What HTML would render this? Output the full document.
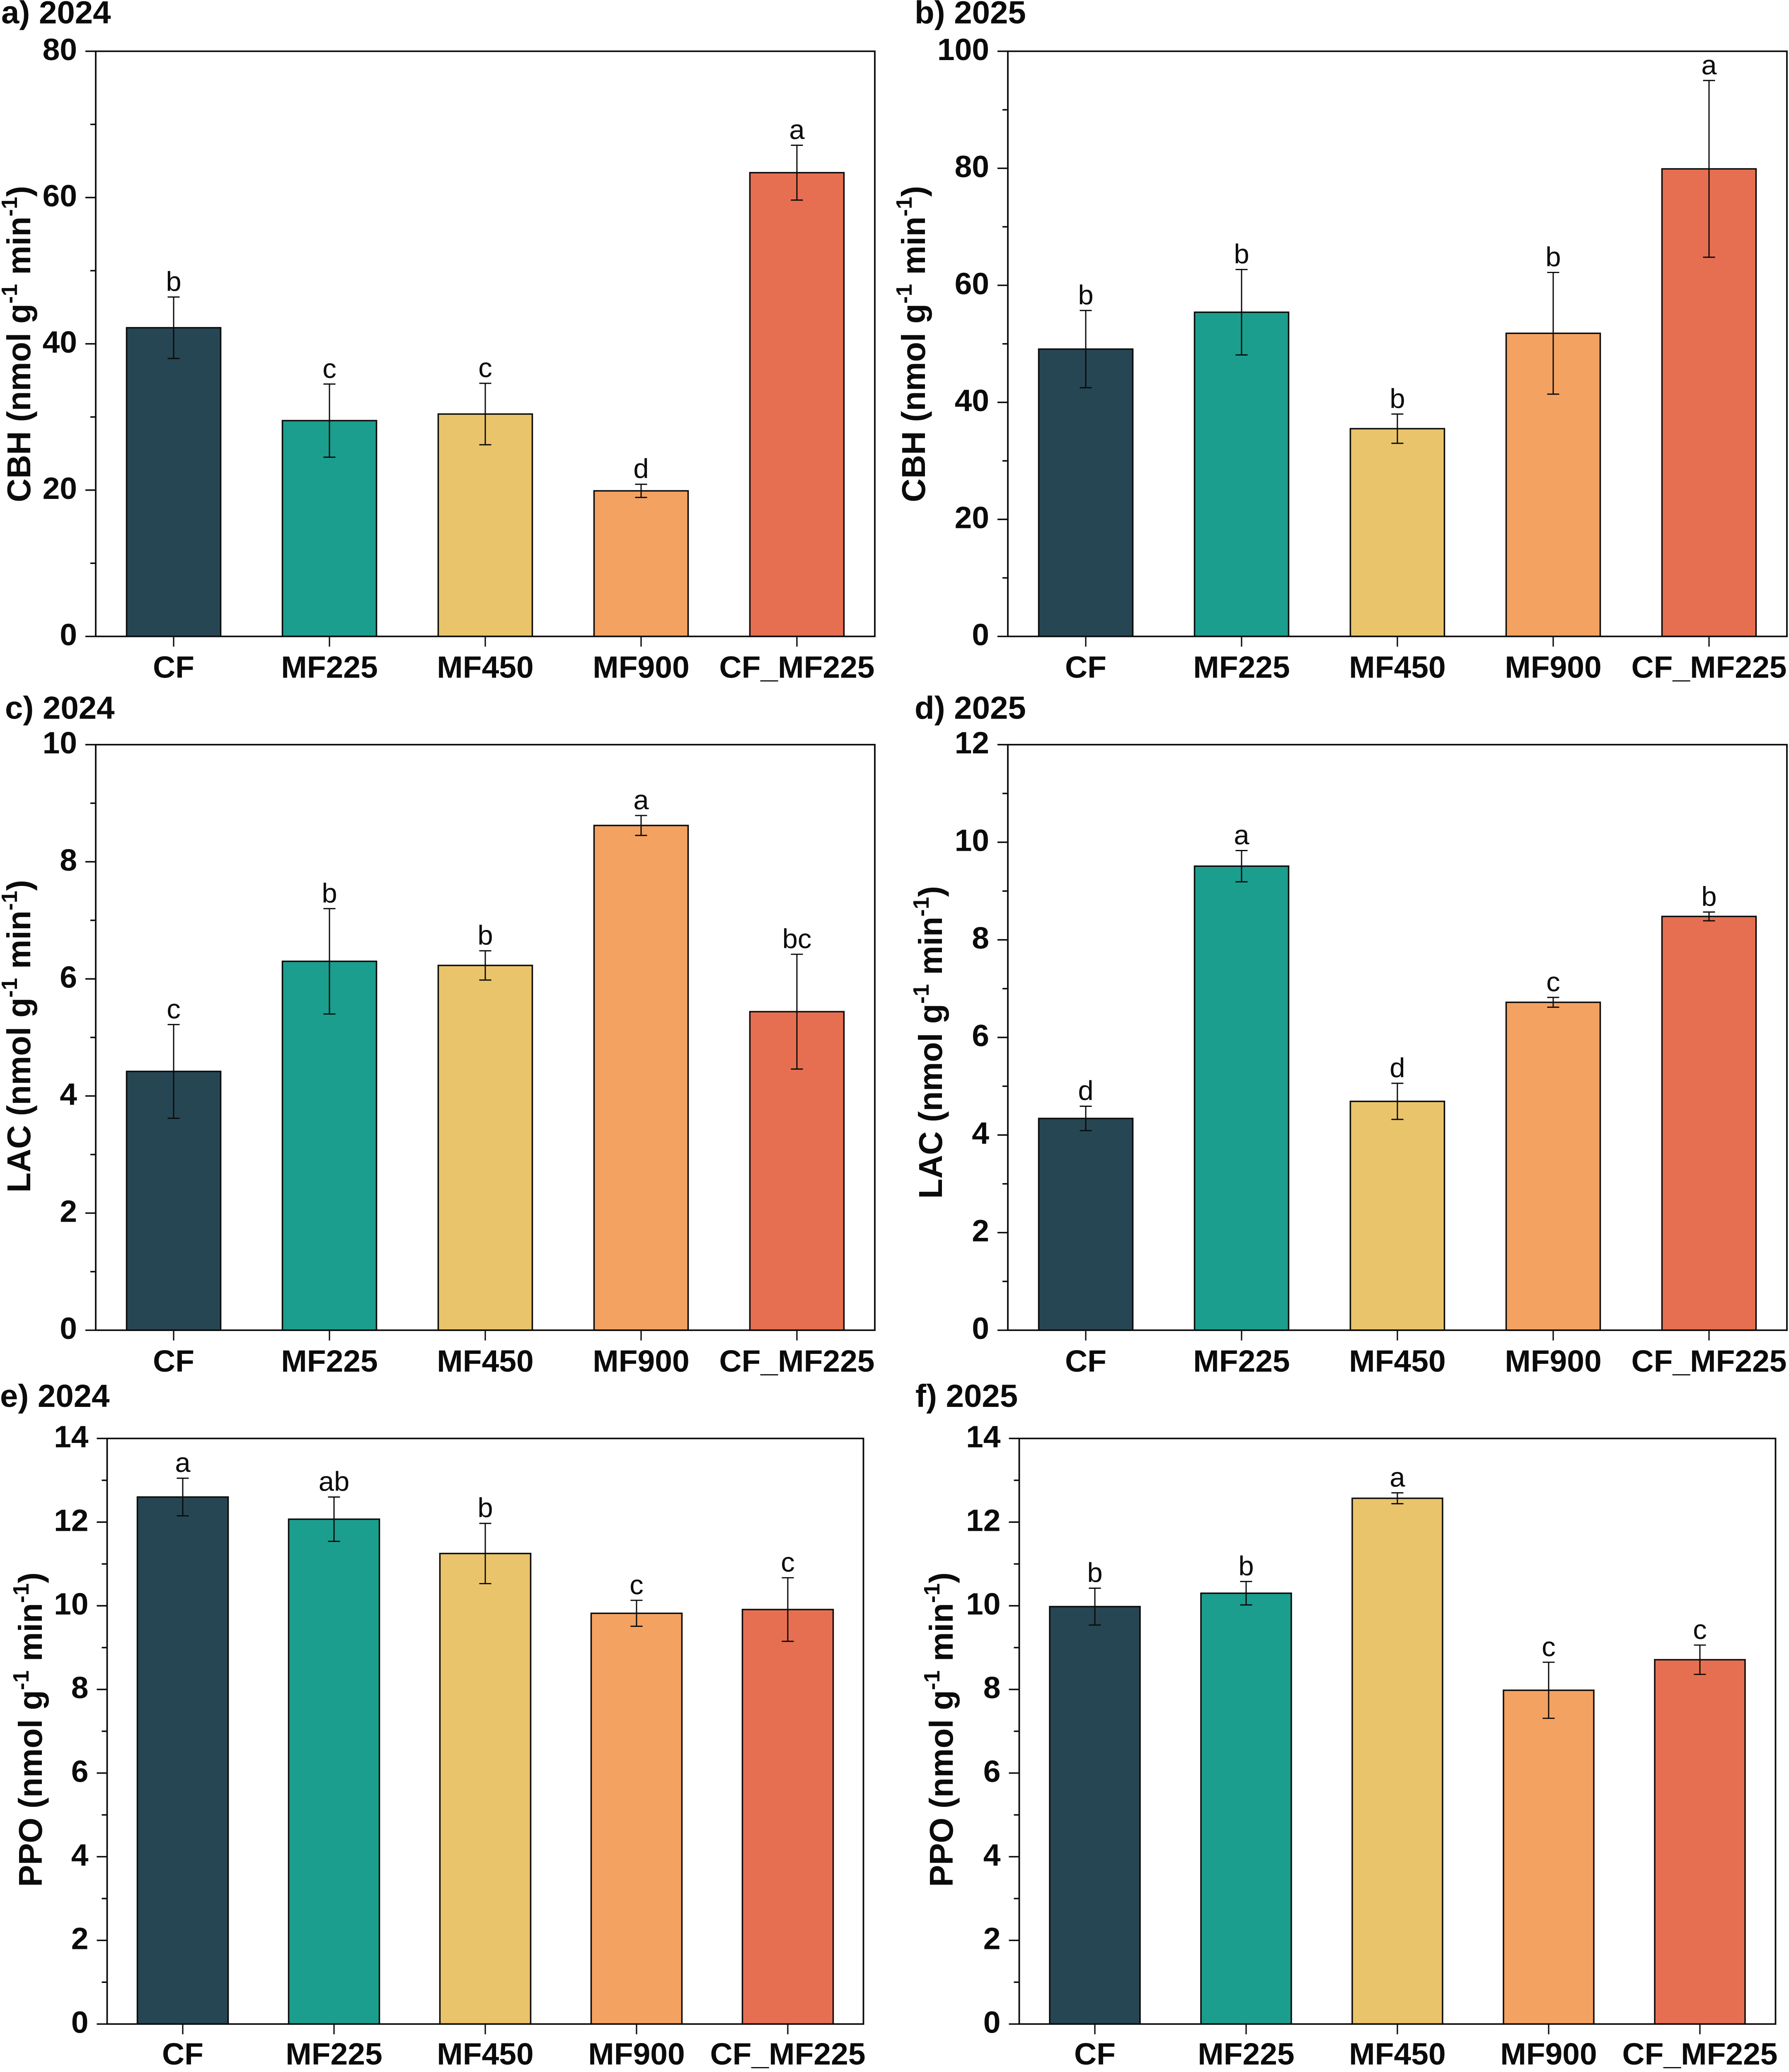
<!DOCTYPE html>
<html lang="en">
<head>
<meta charset="utf-8">
<title>Enzyme activity bar charts</title>
<style>
html,body{margin:0;padding:0;background:#fff;overflow:hidden;width:100%;height:100%;}
svg{display:block;width:100vw;height:100vh;font-family:"Liberation Sans",Arial,sans-serif;}
</style>
</head>
<body>
<svg id="figure" xmlns="http://www.w3.org/2000/svg" viewBox="0 0 4317 5053" preserveAspectRatio="none">
<rect x="0" y="0" width="4317" height="5053" fill="#ffffff"/>
</svg>
<script>
const categories = ['CF','MF225','MF450','MF900','CF_MF225'];
const barColors = ['#264653','#1b9e8e','#e9c46a','#f4a261','#e76f51'];

const valuesA = [42.2,29.5,30.4,19.9,63.4];
const errorsA = [4.2,5.0,4.2,0.9,3.75];
const lettersA = ['b','c','c','d','a'];
const majorTicksA = [0,20,40,60,80];
const minorTicksA = [10,30,50,70];

const valuesB = [49.1,55.4,35.5,51.8,79.9];
const errorsB = [6.6,7.3,2.5,10.4,15.1];
const lettersB = ['b','b','b','b','a'];
const majorTicksB = [0,20,40,60,80,100];
const minorTicksB = [10,30,50,70,90];

const valuesC = [4.42,6.3,6.23,8.62,5.44];
const errorsC = [0.8,0.9,0.25,0.17,0.98];
const lettersC = ['c','b','b','a','bc'];
const majorTicksC = [0,2,4,6,8,10];
const minorTicksC = [1,3,5,7,9];

const valuesD = [4.34,9.51,4.69,6.72,8.48];
const errorsD = [0.25,0.32,0.37,0.1,0.09];
const lettersD = ['d','a','d','c','b'];
const majorTicksD = [0,2,4,6,8,10,12];
const minorTicksD = [1,3,5,7,9,11];

const valuesE = [12.6,12.07,11.25,9.82,9.91];
const errorsE = [0.45,0.53,0.72,0.31,0.76];
const lettersE = ['a','ab','b','c','c'];
const majorTicksE = [0,2,4,6,8,10,12,14];
const minorTicksE = [1,3,5,7,9,11,13];

const valuesF = [9.98,10.3,12.57,7.98,8.71];
const errorsF = [0.44,0.28,0.13,0.67,0.35];
const lettersF = ['b','b','a','c','c'];
const majorTicksF = [0,2,4,6,8,10,12,14];
const minorTicksF = [1,3,5,7,9,11,13];

const svg = document.getElementById('figure');
const NS = 'http://www.w3.org/2000/svg';
const INK = '#0b0b0b';

function make(tag, attrs, parent) {
  const node = document.createElementNS(NS, tag);
  for (const key in attrs) node.setAttribute(key, attrs[key]);
  parent.appendChild(node);
  return node;
}

function drawPanel(p) {
  const group = make('g', {}, svg);
  
  

  const yMax = p.major[p.major.length - 1];
  const yScale = function (v) { return p.base - (v / yMax) * (p.base - p.top); };
  const xScale = function (i) { return p.left + (i + 0.5) * p.width / categories.length; };

  const title = make('text', {x: p.titleX, y: p.titleY, 'font-size': 78, 'font-weight': 'bold', fill: INK}, group);
  title.textContent = p.title;
  
  

  categories.forEach(function (cat, i) {
    const cx = xScale(i);
    const yTop = yScale(p.values[i]);
    const bar = make('rect', {x: cx - p.barWidth / 2, y: yTop, width: p.barWidth, height: p.base - yTop, fill: barColors[i], stroke: INK, 'stroke-width': 3.5}, group);
    
    

    const hi = yScale(p.values[i] + p.errors[i]);
    const lo = yScale(p.values[i] - p.errors[i]);
    const err = make('path', {d: 'M' + (cx - 14.5) + ' ' + hi + 'H' + (cx + 14.5) + 'M' + cx + ' ' + hi + 'V' + lo + 'M' + (cx - 14.5) + ' ' + lo + 'H' + (cx + 14.5), fill: 'none', stroke: INK, 'stroke-width': 3}, group);
    
    

    const letter = make('text', {x: cx, y: hi - 15, 'font-size': 67, 'text-anchor': 'middle', fill: INK}, group);
    letter.textContent = p.letters[i];
    
    

    const tick = make('line', {x1: cx, x2: cx, y1: p.base, y2: p.base + 25, stroke: INK, 'stroke-width': 3.2}, group);
    
    

    const label = make('text', {x: cx, y: p.base + p.labelGap, 'font-size': 75, 'font-weight': 'bold', 'text-anchor': 'middle', fill: INK}, group);
    label.textContent = cat;
    
    
  });

  const frame = make('rect', {x: p.left, y: p.top, width: p.width, height: p.base - p.top, fill: 'none', stroke: INK, 'stroke-width': 3.8}, group);
  
  

  p.major.forEach(function (v) {
    const y = yScale(v);
    const tick = make('line', {x1: p.left - 25, x2: p.left, y1: y, y2: y, stroke: INK, 'stroke-width': 3.6}, group);
    
    

    const label = make('text', {x: p.left - 45, y: y + 21.5, 'font-size': 75, 'font-weight': 'bold', 'text-anchor': 'end', fill: INK}, group);
    label.textContent = String(v);
    
    
  });

  p.minor.forEach(function (v) {
    const y = yScale(v);
    const tick = make('line', {x1: p.left - 13, x2: p.left, y1: y, y2: y, stroke: INK, 'stroke-width': 3.6}, group);
    
    
  });

  const axisTitle = make('text', {transform: 'translate(' + p.yTitleX + ',' + p.yTitleY + ') rotate(-90)', 'font-size': 80, 'font-weight': 'bold', 'text-anchor': 'middle', fill: INK}, group);
  
  
  const parts = [
    {t: p.enzyme + ' (nmol g', s: 80, d: 0},
    {t: '-1', s: 54, d: -32},
    {t: ' min', s: 80, d: 32},
    {t: '-1', s: 54, d: -32},
    {t: ')', s: 80, d: 32}
  ];
  parts.forEach(function (part) {
    const span = make('tspan', {'font-size': part.s, dy: part.d}, axisTitle);
    span.textContent = part.t;
  });
}

drawPanel({id:'a', title:'a) 2024', enzyme:'CBH', values:valuesA, errors:errorsA, letters:lettersA, major:majorTicksA, minor:minorTicksA, left:231, width:1880, top:125, base:1552, barWidth:227, labelGap:101, titleX:3, titleY:57, yTitleX:73, yTitleY:839});
drawPanel({id:'b', title:'b) 2025', enzyme:'CBH', values:valuesB, errors:errorsB, letters:lettersB, major:majorTicksB, minor:minorTicksB, left:2432, width:1880, top:125, base:1552, barWidth:227, labelGap:101, titleX:2207, titleY:57, yTitleX:2232, yTitleY:839});
drawPanel({id:'c', title:'c) 2024', enzyme:'LAC', values:valuesC, errors:errorsC, letters:lettersC, major:majorTicksC, minor:minorTicksC, left:231, width:1880, top:1816, base:3244, barWidth:227, labelGap:101, titleX:12, titleY:1753, yTitleX:73, yTitleY:2527});
drawPanel({id:'d', title:'d) 2025', enzyme:'LAC', values:valuesD, errors:errorsD, letters:lettersD, major:majorTicksD, minor:minorTicksD, left:2432, width:1880, top:1816, base:3244, barWidth:227, labelGap:101, titleX:2207, titleY:1753, yTitleX:2273, yTitleY:2542});
drawPanel({id:'e', title:'e) 2024', enzyme:'PPO', values:valuesE, errors:errorsE, letters:lettersE, major:majorTicksE, minor:minorTicksE, left:258.5, width:1825, top:3508, base:4936, barWidth:219, labelGap:99, titleX:0, titleY:3431, yTitleX:101, yTitleY:4218});
drawPanel({id:'f', title:'f) 2025', enzyme:'PPO', values:valuesF, errors:errorsF, letters:lettersF, major:majorTicksF, minor:minorTicksF, left:2459.5, width:1825, top:3508, base:4936, barWidth:218, labelGap:99, titleX:2209, titleY:3431, yTitleX:2299, yTitleY:4218});
</script>
</body>
</html>
